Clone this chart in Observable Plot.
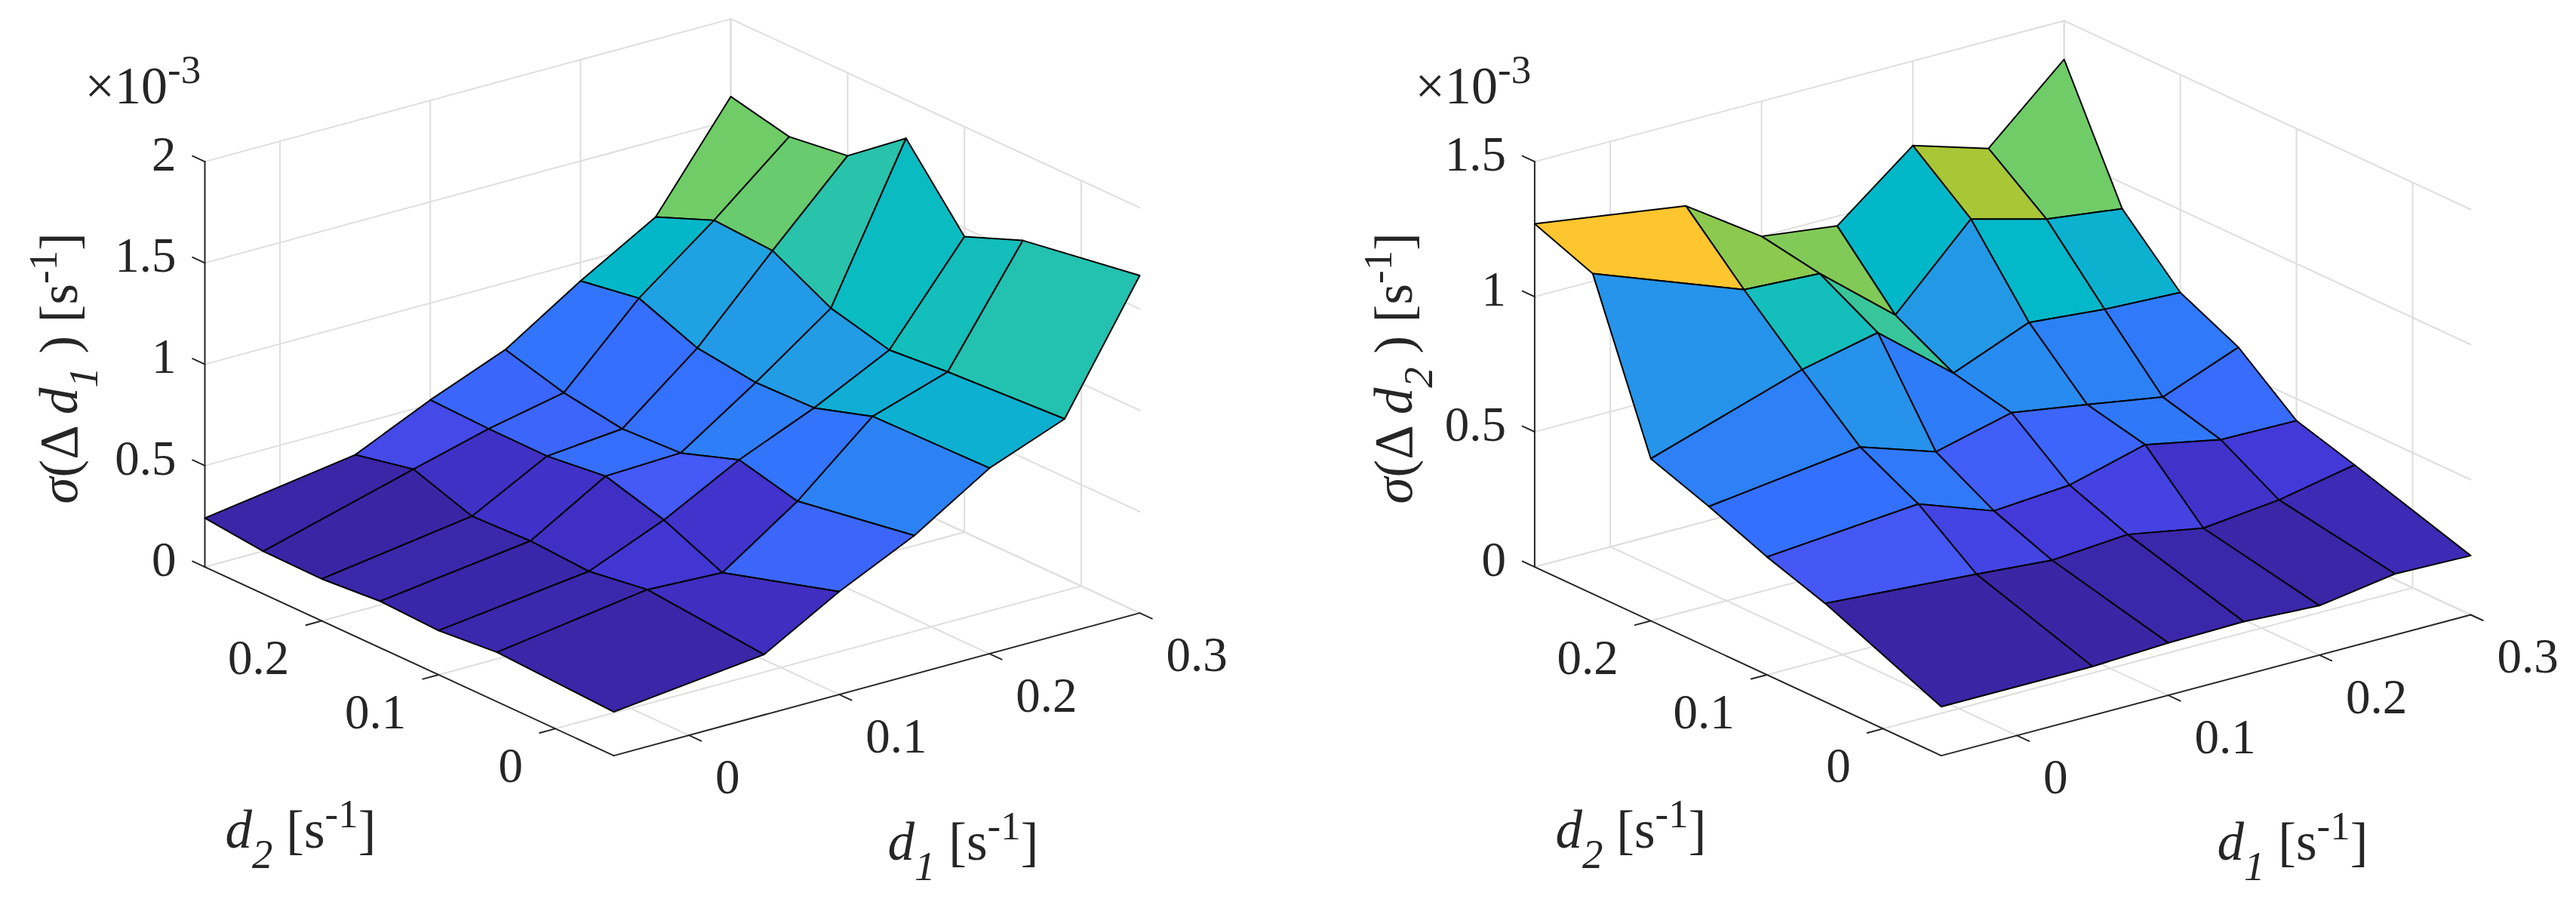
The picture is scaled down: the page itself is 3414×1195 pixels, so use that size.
<!DOCTYPE html>
<html>
<head>
<meta charset="utf-8">
<script src="https://cdn.jsdelivr.net/npm/d3@7"></script>
<script src="https://cdn.jsdelivr.net/npm/@observablehq/plot@0.6"></script>
<style>
html,body{margin:0;padding:0;background:#fff;}
#chart{display:flex;width:3414px;height:1195px;}
svg{display:block;}
</style>
</head>
<body>
<div id="chart"></div>
<script>
// Grid of the surface (s^-1)
const d1Values = [-0.05, 0.05, 0.1, 0.15, 0.2, 0.25, 0.3];
const d2Values = [-0.05, 0.05, 0.1, 0.15, 0.2, 0.25, 0.3];
// sigma(Delta d1) in 1e-3 s^-1 : one row per d2, one column per d1
const sigmaD1 = [
  [0.216, 0.298, 0.508, 0.684, 0.916, 1.058, 1.665],
  [0.244, 0.352, 0.335, 0.587, 0.905, 1.024, 1.572],
  [0.218, 0.309, 0.462, 0.658, 0.814, 0.999, 1.458],
  [0.230, 0.326, 0.545, 0.559, 0.806, 1.072, 1.810],
  [0.207, 0.315, 0.511, 0.545, 0.843, 1.223, 1.591],
  [0.210, 0.414, 0.513, 0.590, 0.956, 1.240, 1.552],
  [0.241, 0.352, 0.522, 0.670, 0.908, 1.123, 1.617]
];
// sigma(Delta d2) in 1e-3 s^-1
const sigmaD2 = [
  [0.181, 0.181, 0.194, 0.198, 0.183, 0.226, 0.219],
  [0.364, 0.323, 0.300, 0.321, 0.270, 0.300, 0.355],
  [0.436, 0.483, 0.383, 0.404, 0.479, 0.423, 0.419],
  [0.523, 0.594, 0.502, 0.572, 0.528, 0.481, 0.591],
  [0.600, 0.781, 0.843, 0.619, 0.732, 0.706, 0.694],
  [1.185, 0.977, 0.962, 0.734, 1.015, 0.940, 0.904],
  [1.270, 1.187, 1.000, 0.964, 1.187, 1.102, 1.357]
];
const d1Ticks = [0, 0.1, 0.2, 0.3];
const d2Ticks = [0, 0.1, 0.2];
const d1Grid = [0, 0.1, 0.2, 0.3];
const d2Grid = [0, 0.1, 0.2, 0.3];
const zTicksLeft = [0, 0.5, 1, 1.5, 2];
const zTicksRight = [0, 0.5, 1, 1.5];
const parula = ["#3a26a5","#3c28b0","#4338d8","#4558f5","#3470ff","#2a87f2","#1fa3e0","#02b8c8","#0cbcc0","#26c2ae","#70cc67","#a9c636","#e6c030","#fdc52e","#f9fb15"];
const parulaStops = [0, 0.03, 0.1, 0.156, 0.217, 0.32, 0.4, 0.47, 0.5, 0.535, 0.645, 0.709, 0.78, 0.854, 1];
const INK = "#262626", GRID = "#dedede", SERIF = "Liberation Serif";
const W = 1707, H = 1195, LO = -0.05, HI = 0.3;
const colorRamp = d3.scaleLinear().domain(parulaStops).range(parula);

function panel({z, zMax, zTicks, origin, d1Axis, d2Axis, zRise, yLabel, yLabelX, exp, d1LabelX, d2LabelX}) {
  // orthographic projection of the axes box on the picture plane
  const project = (d1, d2, v) => {
    const a = (d1 - LO) / (HI - LO), b = (d2 - LO) / (HI - LO), c = v / zMax;
    return {u: origin[0] + a * d1Axis[0] + b * d2Axis[0], v: origin[1] + a * d1Axis[1] + b * d2Axis[1] - c * zRise};
  };
  const seg = (id, p, q) => [{id, ...project(...p)}, {id, ...project(...q)}];
  const grid = [
    ...d1Grid.flatMap(t => [...seg(`fx${t}`, [t, LO, 0], [t, HI, 0]), ...seg(`wx${t}`, [t, HI, 0], [t, HI, zMax])]),
    ...d2Grid.flatMap(t => [...seg(`fy${t}`, [LO, t, 0], [HI, t, 0]), ...seg(`wy${t}`, [HI, t, 0], [HI, t, zMax])]),
    ...zTicks.flatMap(t => [...seg(`zl${t}`, [LO, HI, t], [HI, HI, t]), ...seg(`zr${t}`, [HI, HI, t], [HI, LO, t])])
  ];
  const tickLen = 0.0105;
  const axes = [
    ...seg("ax1", [LO, LO, 0], [HI, LO, 0]),
    ...seg("ax2", [LO, LO, 0], [LO, HI, 0]),
    ...seg("ax3", [LO, HI, 0], [LO, HI, zMax]),
    ...d1Ticks.flatMap(t => seg(`t1${t}`, [t, LO, 0], [t, LO - tickLen, 0])),
    ...d2Ticks.flatMap(t => seg(`t2${t}`, [LO, t, 0], [LO - tickLen, t, 0])),
    ...zTicks.flatMap(t => seg(`t3${t}`, [LO, HI, t], [LO, HI + tickLen, t]))
  ];
  // far cells first, so that nearer cells cover them
  const quads = [];
  for (let j = d2Values.length - 2; j >= 0; --j) {
    for (let i = d1Values.length - 2; i >= 0; --i) {
      const id = `${i}-${j}`, c = z[j][i];
      for (const [n, m] of [[i, j], [i + 1, j], [i + 1, j + 1], [i, j + 1]]) {
        quads.push({id, c, ...project(d1Values[n], d2Values[m], z[m][n])});
      }
    }
  }
  const all = z.flat();
  const labels = (values, fn) => values.map(t => ({label: String(t), ...fn(t)}));
  const txt = {x: "u", y: "v", text: "label", fontFamily: SERIF, fill: INK};
  const svg = Plot.plot({
    width: W, height: H, margin: 0,
    style: {background: "#fff"},
    x: {domain: [0, W], range: [0, W], axis: null},
    y: {domain: [0, H], range: [0, H], axis: null},
    color: {type: "linear", domain: [d3.min(all), d3.max(all)], interpolate: colorRamp},
    marks: [
      Plot.line(grid, {x: "u", y: "v", z: "id", stroke: GRID, strokeWidth: 2}),
      Plot.line(axes, {x: "u", y: "v", z: "id", stroke: INK, strokeWidth: 2}),
      Plot.line(quads, {x: "u", y: "v", z: "id", fill: "c", stroke: "#000", strokeWidth: 2, curve: "linear-closed"}),
      Plot.text(labels(zTicks, t => project(LO, HI, t)), {...txt, textAnchor: "end", dx: -38, dy: -9, fontSize: 65}),
      Plot.text(labels(d2Ticks, t => project(LO, t, 0)), {...txt, textAnchor: "end", dx: -43, dy: 50, fontSize: 65}),
      Plot.text(labels(d1Ticks, t => project(t, LO, 0)), {...txt, textAnchor: "start", dx: 35, dy: 56, fontSize: 65}),
      Plot.text([{u: exp, v: 136, label: "×10^{-3}"}], {...txt, textAnchor: "start", lineAnchor: "bottom", fontSize: 70}),
      Plot.text([{u: d2LabelX, v: 1122, label: "*d*_{2} [s^{-1}]"}], {...txt, textAnchor: "start", lineAnchor: "bottom", fontSize: 71}),
      Plot.text([{u: d1LabelX, v: 1138, label: "*d*_{1} [s^{-1}]"}], {...txt, textAnchor: "start", lineAnchor: "bottom", fontSize: 71}),
      Plot.text([{u: yLabelX, v: 667, label: yLabel}], {...txt, textAnchor: "start", lineAnchor: "bottom", rotate: -90, fontSize: 71})
    ]
  });
  // turn the light markup of the labels into real tspans
  const token = /\*([^*]+)\*|_\{([^}]+)\}|\^\{([^}]+)\}|([^*_^]+)/g;
  d3.select(svg).selectAll("text").each(function () {
    const src = this.textContent;
    if (!/[*_^]/.test(src)) return;
    const el = d3.select(this);
    el.text(null);
    let back = 0;
    for (const [, it, sub, sup, plain] of src.matchAll(token)) {
      const t = el.append("tspan");
      let shift = 0;
      if (it) t.text(it).attr("font-style", "italic");
      else if (sub) { t.text(sub).attr("font-style", "italic").attr("font-size", 55); shift = 27; }
      else if (sup) { t.text(sup).attr("font-size", 53); shift = -27; }
      else t.text(plain);
      const dy = back + shift;
      if (dy) t.attr("dy", dy);
      back = -shift;
    }
  });
  return svg;
}

const root = document.getElementById("chart");
root.append(panel({
  z: sigmaD1, zMax: 2, zTicks: zTicksLeft,
  origin: [813, 1000.6], d1Axis: [697, -189], d2Axis: [-542, -250], zRise: 537,
  yLabel: "*σ*(Δ *d*_{1} ) [s^{-1}]", yLabelX: 101, exp: 112, d1LabelX: 1176, d2LabelX: 298
}));
root.append(panel({
  z: sigmaD2, zMax: 1.5, zTicks: zTicksRight,
  origin: [865.3, 1000.6], d1Axis: [701.7, -186.6], d2Axis: [-538.9, -250], zRise: 537,
  yLabel: "*σ*(Δ *d*_{2} ) [s^{-1}]", yLabelX: 163, exp: 168, d1LabelX: 1231, d2LabelX: 354
}));
</script>
</body>
</html>
